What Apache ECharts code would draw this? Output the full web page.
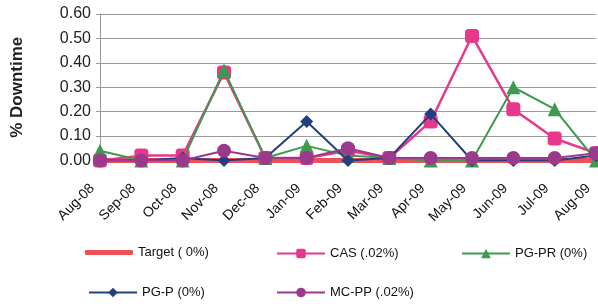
<!DOCTYPE html>
<html><head><meta charset="utf-8">
<script src="https://cdn.jsdelivr.net/npm/echarts@6/dist/echarts.min.js"></script>
<style>html,body{margin:0;padding:0;background:#fff}#c{width:598px;height:304px}</style>
</head><body><div id="c"></div>
<script>
const categories = ['Aug-08','Sep-08','Oct-08','Nov-08','Dec-08','Jan-09','Feb-09','Mar-09','Apr-09','May-09','Jun-09','Jul-09','Aug-09'];
const target = [0,0,0,0,0,0,0,0,0,0,0,0,0];
const cas = [0.00,0.02,0.02,0.36,0.01,0.01,0.04,0.01,0.16,0.51,0.21,0.09,0.03];
const pgpr = [0.04,0.00,0.00,0.37,0.01,0.06,0.02,0.01,0.00,0.00,0.30,0.21,0.00];
const pgp = [0.00,0.00,0.01,0.00,0.01,0.16,0.00,0.01,0.19,0.00,0.00,0.00,0.02];
const mcpp = [0.00,0.00,0.00,0.04,0.01,0.01,0.05,0.01,0.01,0.01,0.01,0.01,0.03];

const chart = echarts.init(document.getElementById('c'));
const font = 'Liberation Sans, Arial, sans-serif';
const legendText = {fontFamily: font, fontSize: 13, color: '#111'};
function lg(name, left, top, extra){
  return Object.assign({data:[name], left:left, top:top, itemWidth:48, itemHeight:12, textStyle:legendText, padding:0, itemGap:0}, extra||{});
}
chart.setOption({
  animation:false,
  grid:{left:100, right:2, top:14, bottom:143.5, containLabel:false},
  legend:[
    lg('Target ( 0%)', 85, 246, {itemHeight:5, icon:'roundRect'}),
    lg('CAS (.02%)', 276, 247),
    lg('PG-PR (0%)', 461, 247),
    lg('PG-P (0%)', 88, 286),
    lg('MC-PP (.02%)', 276, 286)
  ],
  xAxis:{type:'category', data:categories, boundaryGap:false,
    axisLine:{show:true, lineStyle:{color:'#888'}}, axisTick:{show:false},
    axisLabel:{rotate:45, fontFamily:font, fontSize:14, color:'#111', margin:18, padding:[0,11,0,0], interval:0}},
  yAxis:{type:'value', min:0, max:0.6, interval:0.1,
    name:'% Downtime', nameLocation:'middle', nameGap:74, nameRotate:90,
    nameTextStyle:{fontFamily:font, fontSize:17, fontWeight:'bold', color:'#222'},
    axisLine:{show:true, lineStyle:{color:'#999'}}, axisTick:{show:true, length:4, lineStyle:{color:'#999'}},
    axisLabel:{fontFamily:font, fontSize:16, color:'#222', margin:9, formatter:v=>v.toFixed(2)},
    splitLine:{lineStyle:{color:'#9a9a9a', width:1}}},
  series:[
    {name:'Target ( 0%)', type:'line', data:target, symbol:'none', lineStyle:{color:'#EE5058', width:5}, itemStyle:{color:'#EE5058'}, z:2},
    {name:'CAS (.02%)', type:'line', data:cas, symbol:'roundRect', symbolSize:14, lineStyle:{color:'#E8388C', width:2.5}, itemStyle:{color:'#E8388C'}, z:3},
    {name:'PG-PR (0%)', type:'line', data:pgpr, symbol:'triangle', symbolSize:14, lineStyle:{color:'#3E9A4E', width:2}, itemStyle:{color:'#3E9A4E'}, z:4},
    {name:'PG-P (0%)', type:'line', data:pgp, symbol:'diamond', symbolSize:13, lineStyle:{color:'#233F82', width:2}, itemStyle:{color:'#233F82'}, z:5},
    {name:'MC-PP (.02%)', type:'line', data:mcpp, symbol:'circle', symbolSize:14, lineStyle:{color:'#9B3A8C', width:2}, itemStyle:{color:'#9B3A8C'}, z:6}
  ]
});
</script></body></html>
